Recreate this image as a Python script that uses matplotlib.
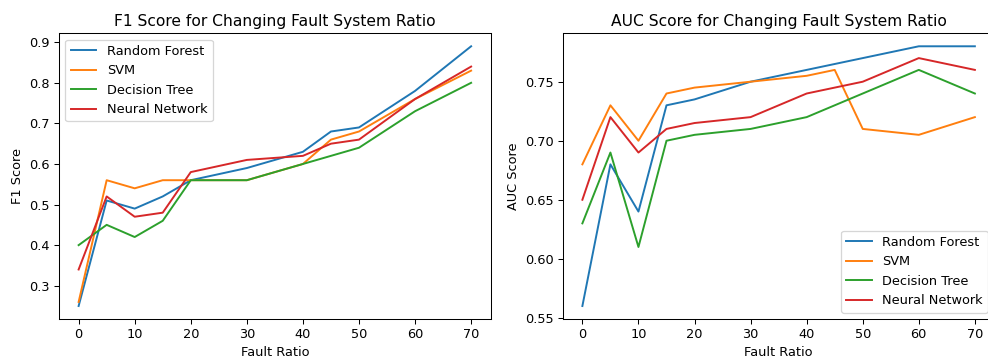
import matplotlib
matplotlib.use("Agg")
import matplotlib.pyplot as plt

fault_ratio = [0, 5, 10, 15, 20, 30, 40, 45, 50, 60, 70]

f1_rf = [0.25, 0.51, 0.49, 0.52, 0.56, 0.59, 0.63, 0.68, 0.69, 0.78, 0.89]
f1_svm = [0.26, 0.56, 0.54, 0.56, 0.56, 0.56, 0.60, 0.66, 0.68, 0.76, 0.83]
f1_dt = [0.40, 0.45, 0.42, 0.46, 0.56, 0.56, 0.60, 0.62, 0.64, 0.73, 0.80]
f1_nn = [0.34, 0.52, 0.47, 0.48, 0.58, 0.61, 0.62, 0.65, 0.66, 0.76, 0.84]

auc_rf = [0.56, 0.68, 0.64, 0.73, 0.735, 0.75, 0.76, 0.765, 0.77, 0.78, 0.78]
auc_svm = [0.68, 0.73, 0.70, 0.74, 0.745, 0.75, 0.755, 0.76, 0.71, 0.705, 0.72]
auc_dt = [0.63, 0.69, 0.61, 0.70, 0.705, 0.71, 0.72, 0.73, 0.74, 0.76, 0.74]
auc_nn = [0.65, 0.72, 0.69, 0.71, 0.715, 0.72, 0.74, 0.745, 0.75, 0.77, 0.76]

labels = ["Random Forest", "SVM", "Decision Tree", "Neural Network"]

DPI = 93
fig, (ax1, ax2) = plt.subplots(1, 2, figsize=(988 / DPI, 358 / DPI), dpi=DPI)
fig.subplots_adjust(left=59 / 988, right=994.5 / 988, top=1 - 33.3 / 358,
                    bottom=1 - 319 / 358, wspace=0.1668)

for vals, lab in zip([f1_rf, f1_svm, f1_dt, f1_nn], labels):
    ax1.plot(fault_ratio, vals, label=lab)
ax1.set_title("F1 Score for Changing Fault System Ratio")
ax1.set_xlabel("Fault Ratio")
ax1.set_ylabel("F1 Score")
ax1.legend(loc="upper left")

for vals, lab in zip([auc_rf, auc_svm, auc_dt, auc_nn], labels):
    ax2.plot(fault_ratio, vals, label=lab)
ax2.set_title("AUC Score for Changing Fault System Ratio")
ax2.set_xlabel("Fault Ratio")
ax2.set_ylabel("AUC Score")
ax2.legend(loc="lower right")

fig.savefig("out.png", dpi=DPI)
